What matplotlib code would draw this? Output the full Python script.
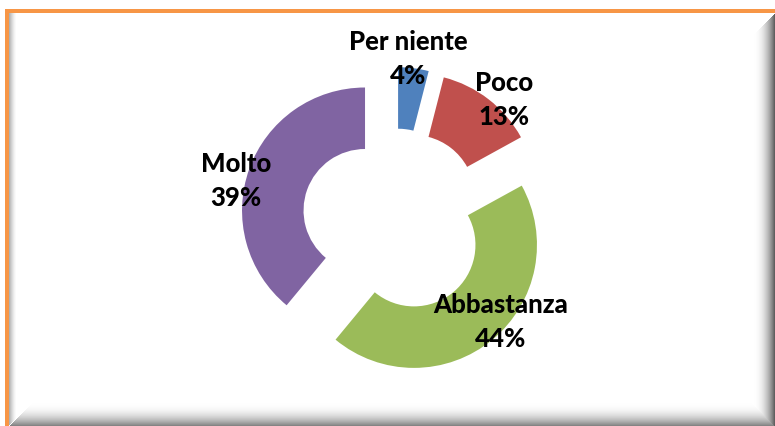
import numpy as np
import matplotlib
matplotlib.use("Agg")
import matplotlib.pyplot as plt

# ---- data ----
categories = ["Per niente", "Poco", "Abbastanza", "Molto"]
percent = [4, 13, 44, 39]
colors = ["#4F81BD", "#C0504D", "#9BBB59", "#8064A2"]

# ---- layout (pixels) ----
W, H = 775, 426
CX, CY = 394.2, 221.0      # donut centre in pixels (y down)
R_PX = 123.0               # outer radius in pixels
EXPLODE_PX = 31.0
HOLE_RATIO = 0.5
label_pos_px = [(408, 59), (504, 100), (501, 322), (236, 181)]

fig = plt.figure(figsize=(W / 100, H / 100), dpi=100)

# ---- background frame with bevel ----
img = np.ones((H, W, 3))
yy, xx = np.mgrid[0:H, 0:W].astype(float)
x0, y0 = 9, 13
dr = (W - 1) - xx
db = (H - 1) - yy
dl = xx - x0
dt = yy - y0
inside = (xx >= x0) & (yy >= y0)
# right bevel
bw_r = 21.0
mask_r = inside & (dr < bw_r) & (dr < dt) & (dr <= db)
t = 1 - dr / bw_r
shade_r = 1 - 0.62 * t ** 2.2
# bottom bevel
bw_b = 23.0
mask_b = inside & (db < bw_b) & (db < dl) & (db < dr)
t2 = 1 - db / bw_b
shade_b = 1 - 0.48 * t2 ** 2.2
# left bevel (light)
bw_l = 7.0
mask_l = inside & (dl < bw_l) & (dl < db) & (dl < dt + 40)
t3 = 1 - dl / bw_l
shade_l = 1 - 0.30 * t3 ** 1.5
shade = np.ones((H, W))
shade[mask_l] = shade_l[mask_l]
shade[mask_r] = shade_r[mask_r]
shade[mask_b] = shade_b[mask_b]
img *= shade[..., None]
orange = np.array([247, 150, 70]) / 255.0
img[9:13, 5:W] = orange
img[9:H, 5:9] = orange

bg = fig.add_axes([0, 0, 1, 1], zorder=0)
bg.imshow(img, extent=(0, W, H, 0), interpolation="nearest", aspect="auto")
bg.set_axis_off()

# ---- donut ----
ax = fig.add_axes([0, 0, 1, 1], zorder=1)
ax.patch.set_alpha(0)
explode = [EXPLODE_PX / R_PX] * len(percent)
ax.pie(percent, colors=colors, startangle=90, counterclock=False,
       explode=explode, radius=1.0,
       wedgeprops=dict(width=HOLE_RATIO, linewidth=0))
ax.set_xlim((0 - CX) / R_PX, (W - CX) / R_PX)
ax.set_ylim((CY - H) / R_PX, CY / R_PX)
ax.set_aspect("equal")
ax.set_axis_off()

for cat, p, (lx, ly) in zip(categories, percent, label_pos_px):
    ax.text((lx - CX) / R_PX, (CY - ly) / R_PX, f"{cat}\n{p}%",
            ha="center", va="center", fontsize=18.5, fontweight="black",
            family="Lato", linespacing=1.5, color="black")

fig.savefig("out.png", dpi=100)
